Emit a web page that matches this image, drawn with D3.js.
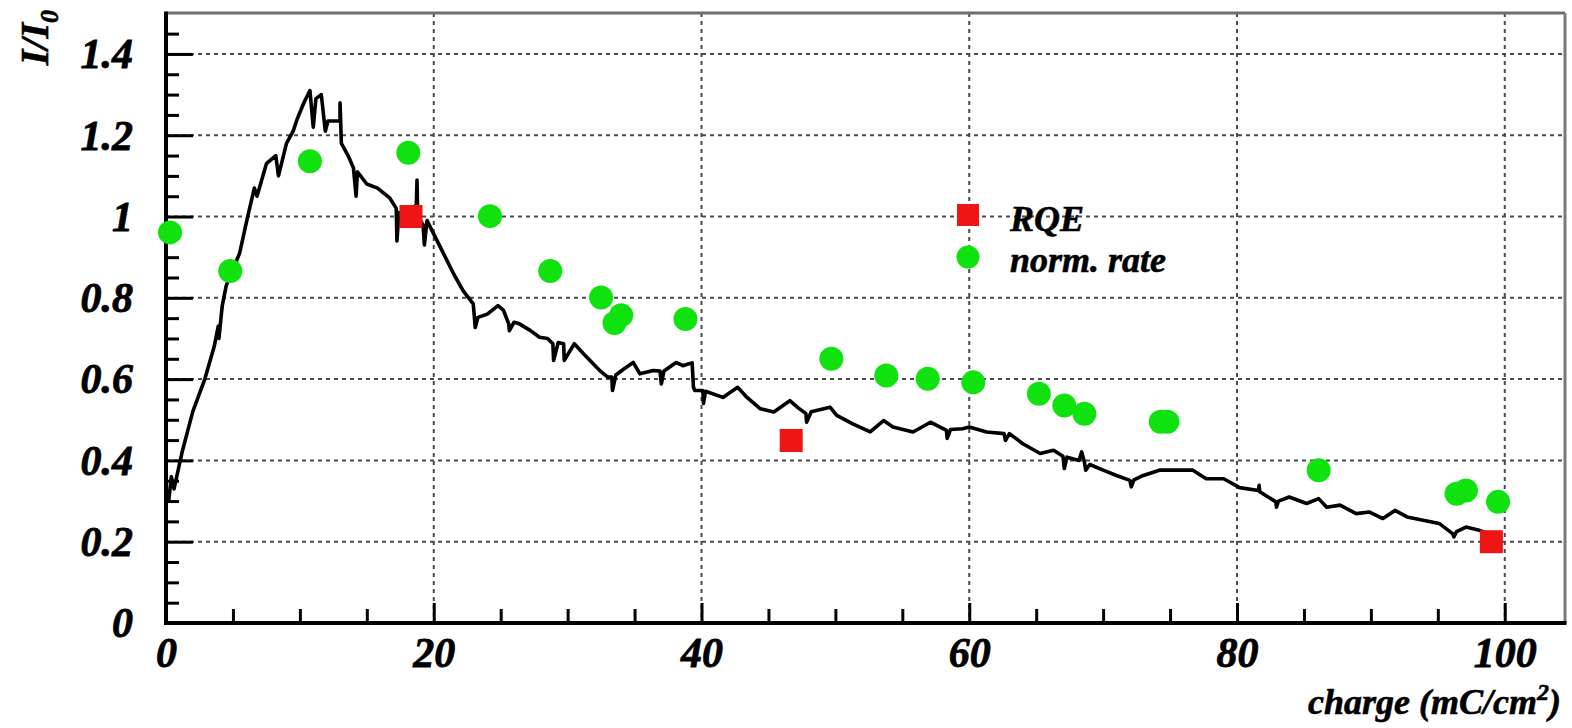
<!DOCTYPE html>
<html>
<head>
<meta charset="utf-8">
<script src="https://cdn.jsdelivr.net/npm/d3@7/dist/d3.min.js"></script>
<style>
  html, body { margin: 0; padding: 0; background: #fff; }
  svg { display: block; }
  text { font-family: "Liberation Serif", "Times New Roman", serif; font-weight: bold; font-style: italic; fill: #000; }
</style>
</head>
<body>
<svg id="chart" width="1572" height="728"></svg>
<script>
// ---- data ----
const xTickValues = [0, 20, 40, 60, 80, 100];
const xTickLabels = ["0", "20", "40", "60", "80", "100"];
const xMinorTicks = [5,10,15,25,30,35,45,50,55,65,70,75,85,90,95];
const yTickValues = [0, 0.2, 0.4, 0.6, 0.8, 1.0, 1.2, 1.4];
const yTickLabels = ["0", "0.2", "0.4", "0.6", "0.8", "1", "1.2", "1.4"];
const yMinorTicks = [0.05,0.1,0.15,0.25,0.3,0.35,0.45,0.5,0.55,0.65,0.7,0.75,0.85,0.9,0.95,1.05,1.1,1.15,1.25,1.3,1.35,1.45];

// black trace (current I/I0 vs charge)
const traceX = [0.2,0.4,0.6,1.2,2.0,2.9,3.6,3.9,3.95,4.2,4.5,5.0,5.5,6.1,6.6,6.8,7.5,8.2,8.4,9.0,9.5,9.8,10.3,10.75,11.0,11.2,11.6,11.9,12.1,13.0,13.0,13.1,13.6,14.0,14.2,14.3,15.0,15.8,16.7,17.2,17.25,17.4,18.0,18.7,18.75,18.8,19.2,19.3,19.5,20.5,21.5,22.2,22.95,23.1,23.3,24.0,24.8,25.2,25.6,25.65,26.0,26.4,27.2,27.9,28.5,28.9,28.95,29.3,29.7,29.75,30.5,31.2,32.4,33.0,33.3,33.35,33.6,34.2,34.9,35.4,36.4,36.9,37.0,37.2,38.1,38.6,39.0,39.3,39.4,39.5,40.1,40.15,40.3,41.6,42.7,43.4,44.4,45.4,46.6,47.2,47.8,47.85,48.2,49.6,50.1,51.3,52.6,53.6,54.3,55.8,57.1,58.3,58.35,58.6,59.5,60.0,61.3,62.6,62.7,63.0,64.0,65.3,66.3,67.0,67.1,67.3,68.2,68.4,68.6,68.7,69.0,70.0,71.0,72.0,72.1,72.3,73.0,74.2,75.5,76.7,77.7,79.0,80.2,81.6,81.65,81.7,82.9,82.95,83.1,83.9,85.2,86.1,86.7,87.7,88.9,89.9,90.9,91.8,92.7,93.9,95.1,96.1,96.2,96.4,97.1,98.1,98.6];
const traceY = [0.30,0.36,0.33,0.42,0.52,0.60,0.68,0.73,0.70,0.78,0.83,0.87,0.91,1.00,1.07,1.05,1.13,1.15,1.10,1.18,1.21,1.24,1.28,1.31,1.22,1.29,1.30,1.21,1.235,1.235,1.28,1.18,1.15,1.12,1.05,1.11,1.08,1.07,1.046,1.02,0.94,1.01,1.00,1.03,1.09,1.00,0.98,0.93,0.99,0.924,0.858,0.817,0.785,0.727,0.752,0.760,0.781,0.77,0.736,0.719,0.74,0.736,0.72,0.703,0.70,0.687,0.646,0.69,0.687,0.646,0.687,0.662,0.621,0.605,0.605,0.572,0.61,0.625,0.641,0.613,0.621,0.62,0.588,0.62,0.641,0.633,0.637,0.64,0.58,0.572,0.572,0.54,0.57,0.555,0.580,0.555,0.527,0.519,0.547,0.53,0.515,0.494,0.52,0.531,0.511,0.490,0.470,0.498,0.482,0.470,0.494,0.474,0.454,0.476,0.478,0.482,0.470,0.466,0.449,0.466,0.441,0.417,0.425,0.41,0.38,0.408,0.40,0.421,0.396,0.376,0.39,0.376,0.363,0.351,0.335,0.352,0.363,0.376,0.376,0.376,0.355,0.355,0.333,0.326,0.339,0.323,0.298,0.285,0.30,0.310,0.294,0.306,0.285,0.290,0.269,0.273,0.257,0.277,0.261,0.253,0.245,0.220,0.212,0.225,0.236,0.228,0.222];

// RQE (red squares)
const rqeX = [18.3, 46.7, 99.0];
const rqeY = [1.00, 0.449, 0.20];

// normalized rate (green circles)
const rateX = [0.3, 4.8, 10.75, 18.1, 24.2, 28.7, 32.5, 33.5, 34.0, 38.8, 49.7, 53.8, 56.9, 60.3, 65.2, 67.1, 68.6, 74.3, 74.8, 86.1, 96.4, 97.1, 99.5];
const rateY = [0.961, 0.866, 1.136, 1.157, 1.001, 0.866, 0.801, 0.738, 0.757, 0.748, 0.650, 0.609, 0.601, 0.592, 0.564, 0.535, 0.515, 0.495, 0.495, 0.376, 0.318, 0.326, 0.298];

const legendLabels = ["RQE", "norm. rate"];

// ---- layout ----
const L = 166, R = 1565, T = 13, B = 623;
const svg = d3.select("#chart");
const x = d3.scaleLinear().domain([0, 104.5]).range([L, R]);
const y = d3.scaleLinear().domain([0, 1.5]).range([B, T + 0.3]);

const red = "#ee1515", green = "#10e210";

// grid
const grid = svg.append("g");
grid.selectAll("line.h").data(yTickValues.filter(v => v > 0)).enter().append("line")
  .attr("x1", L).attr("x2", R).attr("y1", d => y(d)).attr("y2", d => y(d))
  .attr("stroke", "#4a4a4a").attr("stroke-width", 2).attr("stroke-dasharray", "4,4");
grid.selectAll("line.v").data(xTickValues.filter(v => v > 0)).enter().append("line")
  .attr("y1", T).attr("y2", B).attr("x1", d => x(d)).attr("x2", d => x(d))
  .attr("stroke", "#4a4a4a").attr("stroke-width", 2).attr("stroke-dasharray", "4,4");

// axes
const fontSize = 42;
const yAxis = svg.append("g").attr("transform", `translate(${L},0)`)
  .call(d3.axisLeft(y).tickValues(yTickValues).tickSize(-27).tickPadding(33)
    .tickFormat((d, i) => yTickLabels[i]));
const yMinor = svg.append("g").attr("transform", `translate(${L},0)`)
  .call(d3.axisLeft(y).tickValues(yMinorTicks).tickSize(-13).tickFormat(""));
const xAxis = svg.append("g").attr("transform", `translate(0,${B})`)
  .call(d3.axisBottom(x).tickValues(xTickValues).tickSize(-20)
    .tickFormat((d, i) => xTickLabels[i]));
const xMinor = svg.append("g").attr("transform", `translate(0,${B})`)
  .call(d3.axisBottom(x).tickValues(xMinorTicks).tickSize(-14).tickFormat(""));

[yAxis, yMinor, xAxis, xMinor].forEach(g => {
  g.select(".domain").remove();
  g.selectAll(".tick line").attr("stroke", "#000").attr("stroke-width", 3);
  g.selectAll("text").attr("font-size", fontSize).attr("font-family", null)
    .attr("fill", "#000").attr("stroke", "#000").attr("stroke-width", 0.8);
});
yAxis.selectAll("text").attr("dy", "0.33em");
xAxis.selectAll("text").attr("y", 44).attr("dy", null);

// frame
svg.append("line").attr("x1", L).attr("x2", R).attr("y1", T).attr("y2", T)
  .attr("stroke", "#6e6e6e").attr("stroke-width", 3);
svg.append("line").attr("x1", R).attr("x2", R).attr("y1", T).attr("y2", B)
  .attr("stroke", "#7a7a7a").attr("stroke-width", 3);
svg.append("line").attr("x1", L).attr("x2", L).attr("y1", T - 1.5).attr("y2", B + 2)
  .attr("stroke", "#000").attr("stroke-width", 4);
svg.append("line").attr("x1", L - 2).attr("x2", R + 1.5).attr("y1", B).attr("y2", B)
  .attr("stroke", "#000").attr("stroke-width", 4);

// trace
const trace = traceX.map((v, i) => [v, traceY[i]]);
svg.append("path").datum(trace)
  .attr("d", d3.line().x(d => x(d[0])).y(d => y(d[1])))
  .attr("fill", "none").attr("stroke", "#000").attr("stroke-width", 3.6).attr("stroke-linejoin", "round");

// green circles
svg.append("g").selectAll("circle").data(rateX.map((v, i) => [v, rateY[i]])).enter().append("circle")
  .attr("cx", d => x(d[0])).attr("cy", d => y(d[1])).attr("r", 12).attr("fill", green);

// red squares
const sq = 23;
svg.append("g").selectAll("rect").data(rqeX.map((v, i) => [v, rqeY[i]])).enter().append("rect")
  .attr("x", d => x(d[0]) - sq / 2).attr("y", d => y(d[1]) - sq / 2)
  .attr("width", sq).attr("height", sq).attr("fill", red);

// legend
svg.append("rect").attr("x", 968 - 11).attr("y", 215 - 11).attr("width", 22).attr("height", 22).attr("fill", red);
svg.append("circle").attr("cx", 968).attr("cy", 257).attr("r", 11.5).attr("fill", green);
svg.append("text").attr("x", 1010).attr("y", 231).attr("font-size", 36).attr("stroke", "#000").attr("stroke-width", 0.6).text(legendLabels[0]);
svg.append("text").attr("x", 1010).attr("y", 272).attr("font-size", 36).attr("stroke", "#000").attr("stroke-width", 0.6).text(legendLabels[1]);

// axis titles
const xt = svg.append("text").attr("x", 1561).attr("y", 714).attr("text-anchor", "end").attr("font-size", 36)
  .attr("stroke", "#000").attr("stroke-width", 0.6);
xt.append("tspan").text("charge (mC/cm");
xt.append("tspan").attr("font-size", 24).attr("dy", -14).text("2");
xt.append("tspan").attr("dy", 14).text(")");

const yt = svg.append("text").attr("transform", "translate(48,10) rotate(-90)").attr("text-anchor", "end").attr("font-size", 40)
  .attr("stroke", "#000").attr("stroke-width", 0.6);
yt.append("tspan").text("I/I");
yt.append("tspan").attr("font-size", 26).attr("dy", 10).text("0");
</script>
</body>
</html>
